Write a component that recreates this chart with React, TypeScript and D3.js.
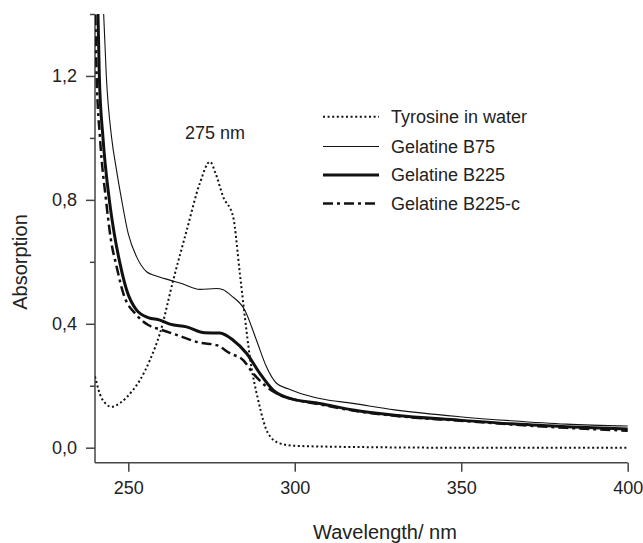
import React, { useEffect, useRef } from "react";
import * as d3 from "d3";

const W = 643;
const H = 543;

const xTicks = [250, 300, 350, 400];
const yMajorTicks = [0, 0.4, 0.8, 1.2];
const yMinorTicks = [0.2, 0.6, 1.0, 1.4];

const tyrosineW = [240, 242, 245, 247.5, 251.4, 253.5, 256.5, 259.5, 263.5, 267.5, 271.5, 274.5, 276.2, 278.5, 281.5, 283.5, 285, 286.5, 289, 292, 295.5, 300, 320, 350, 400];
const tyrosineA = [0.23, 0.16, 0.132, 0.144, 0.186, 0.218, 0.283, 0.369, 0.541, 0.7, 0.854, 0.923, 0.886, 0.81, 0.745, 0.563, 0.423, 0.294, 0.154, 0.046, 0.014, 0.006, 0.002, 0.0, 0.0];

const b75W = [242.0, 242.6, 243.4, 245, 246.4, 248, 250, 252.5, 255.5, 258, 262.5, 266, 271.5, 276.5, 278.5, 281, 285, 288.5, 291.5, 294.5, 298, 301.5, 307.5, 317.5, 330, 349.5, 365, 381.5, 400];
const b75A = [1.6, 1.4, 1.2, 1.0, 0.9, 0.8, 0.69, 0.616, 0.568, 0.556, 0.541, 0.53, 0.511, 0.514, 0.51, 0.49, 0.444, 0.347, 0.261, 0.208, 0.19, 0.176, 0.159, 0.143, 0.122, 0.1, 0.087, 0.076, 0.07];

const b225W = [240.5, 240.9, 241.3, 242.4, 244.3, 245.8, 247.5, 249.5, 252.5, 256, 259.5, 262.5, 267.5, 273, 277.5, 281.5, 285.5, 289.5, 293.5, 298.5, 307.5, 317.5, 330, 349.5, 365, 381.5, 400];
const b225A = [1.6, 1.4, 1.2, 1.0, 0.8, 0.69, 0.595, 0.509, 0.444, 0.42, 0.412, 0.399, 0.39, 0.371, 0.37, 0.347, 0.305, 0.24, 0.186, 0.159, 0.143, 0.122, 0.105, 0.089, 0.077, 0.068, 0.06];

const b225cW = [239.8, 240.1, 240.5, 241.5, 243.3, 244.8, 246.5, 248.5, 252.5, 256, 259.5, 264.5, 271.5, 276.5, 280.5, 284.5, 287.5, 291.5, 295.5, 300, 307.5, 317.5, 330, 349.5, 365, 381.5, 400];
const b225cA = [1.6, 1.4, 1.2, 1.0, 0.8, 0.67, 0.584, 0.498, 0.428, 0.396, 0.382, 0.364, 0.339, 0.331, 0.305, 0.283, 0.24, 0.197, 0.17, 0.155, 0.14, 0.12, 0.103, 0.087, 0.075, 0.064, 0.055];

const seriesNames = ["Tyrosine in water", "Gelatine B75", "Gelatine B225", "Gelatine B225-c"];

export default function App() {
  const ref = useRef<SVGSVGElement | null>(null);

  useEffect(() => {
    const svg = d3.select(ref.current);
    svg.selectAll("*").remove();

    const x = d3.scaleLinear().domain([240, 400]).range([95, 627.7]);
    const y = d3.scaleLinear().domain([0, 1.4]).range([447.7, 14]);
    const yBottom = 462.7;

    const font = "'Liberation Sans', Arial, sans-serif";
    const axisColor = "#444";
    const textColor = "#222";

    svg.append("defs").append("clipPath").attr("id", "plotclip")
      .append("rect").attr("x", 95).attr("y", 14).attr("width", 627.7 - 95 + 2).attr("height", yBottom - 14);

    const fmt = (v: number) => d3.format(".1f")(v).replace(".", ",");

    // Y axis
    const yAxis = d3.axisLeft(y).tickValues(yMajorTicks).tickSize(9).tickSizeOuter(0).tickPadding(9).tickFormat((d: any) => fmt(d));
    const yg = svg.append("g").attr("transform", "translate(95,0)").call(yAxis);
    yg.select(".domain").remove();
    yg.append("line").attr("x1", 0).attr("x2", 0).attr("y1", 14).attr("y2", yBottom);
    const yMinor = d3.axisLeft(y).tickValues(yMinorTicks).tickSize(5).tickSizeOuter(0).tickFormat(() => "");
    const ym = svg.append("g").attr("transform", "translate(95,0)").call(yMinor);
    ym.select(".domain").remove();

    // X axis
    const xAxis = d3.axisBottom(x).tickValues(xTicks).tickSize(9).tickSizeOuter(0).tickPadding(10).tickFormat((d: any) => String(d));
    const xg = svg.append("g").attr("transform", `translate(0,${yBottom})`).call(xAxis);
    xg.select(".domain").remove();
    xg.append("line").attr("x1", 95).attr("x2", 627.7).attr("y1", 0).attr("y2", 0);

    svg.selectAll(".tick line").attr("stroke", axisColor).attr("stroke-width", 1.5);
    [yg, xg].forEach((g) => g.selectAll(":scope > line").attr("stroke", axisColor).attr("stroke-width", 1.5));
    svg.selectAll(".tick text").attr("fill", textColor).style("font-family", font).style("font-size", "18px");

    const line = (ws: number[], as: number[]) =>
      d3.line<number>().x((_, i) => x(ws[i])).y((_, i) => y(as[i])).curve(d3.curveMonotoneX)(ws);

    const plot = svg.append("g").attr("clip-path", "url(#plotclip)");

    const styles = [
      { w: tyrosineW, a: tyrosineA, width: 2, dash: "2,2.6", cap: "butt" },
      { w: b75W, a: b75A, width: 1.1, dash: null, cap: "butt" },
      { w: b225W, a: b225A, width: 3, dash: null, cap: "butt" },
      { w: b225cW, a: b225cA, width: 2.5, dash: "10,4,3,4", cap: "butt" },
    ];

    styles.forEach((s) => {
      const p = plot.append("path").attr("d", line(s.w, s.a) as string)
        .attr("fill", "none").attr("stroke", "#111").attr("stroke-width", s.width)
        .attr("stroke-linejoin", "round");
      if (s.dash) p.attr("stroke-dasharray", s.dash);
    });

    // Legend
    const legY = [116.7, 146.5, 175, 203.5];
    styles.forEach((s, i) => {
      const l = svg.append("line").attr("x1", 323).attr("x2", 379).attr("y1", legY[i]).attr("y2", legY[i])
        .attr("stroke", "#111").attr("stroke-width", s.width);
      if (s.dash) l.attr("stroke-dasharray", s.dash);
      svg.append("text").attr("x", 391).attr("y", legY[i]).attr("dy", "0.35em")
        .attr("fill", textColor).style("font-family", font).style("font-size", "18px").text(seriesNames[i]);
    });

    // Annotation
    svg.append("text").attr("x", 215).attr("y", 133).attr("dy", "0.35em").attr("text-anchor", "middle")
      .attr("fill", textColor).style("font-family", font).style("font-size", "18px").text("275 nm");

    // Axis titles
    svg.append("text").attr("x", 385).attr("y", 539).attr("text-anchor", "middle")
      .attr("fill", textColor).style("font-family", font).style("font-size", "20px").text("Wavelength/ nm");
    svg.append("text").attr("transform", "translate(19.5,262) rotate(-90)").attr("dy", "0.35em").attr("text-anchor", "middle")
      .attr("fill", textColor).style("font-family", font).style("font-size", "20px").text("Absorption");
  }, []);

  return (
    <svg ref={ref} width={W} height={H} style={{ position: "absolute", left: 0, top: 0, background: "#fff" }} />
  );
}
